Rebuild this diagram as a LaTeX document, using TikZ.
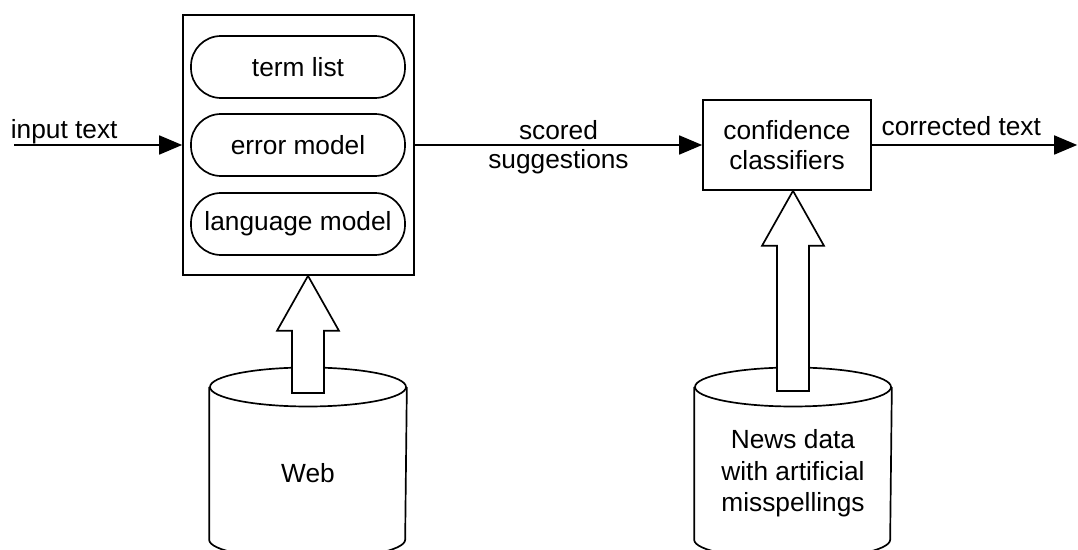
\documentclass[tikz,border=0pt]{standalone}
\usepackage{fontspec}
\setmainfont{Liberation Sans}
\usetikzlibrary{arrows.meta,calc}

\tikzset{
  flow/.style={-{Triangle[length=0.575cm,width=0.475cm]}},
  part/.style={draw,rounded corners=0.75cm,minimum width=5.35cm,minimum height=1.55cm},
  store/.style={minimum width=4.9cm,minimum height=4.275cm,anchor=north,align=center},
  lbl/.style={inner sep=0pt,align=center}
}

% hollow arrow: tip node, tail point
\newcommand{\fatarrow}[2]{%
  \draw[fill=white] let \p1=(#1), \p2=(#2) in
    (\x1,\y1) -- (\x1+0.775cm,\y1-1.375cm) -- (\x1+0.4cm,\y1-1.375cm)
    -- (\x1+0.4cm,\y2) -- (\x1-0.4cm,\y2) -- (\x1-0.4cm,\y1-1.375cm)
    -- (\x1-0.775cm,\y1-1.375cm) -- cycle;}

% drum outline round a store node
\newcommand{\drum}[1]{%
  \draw (#1.north) ellipse [x radius=2.45cm,y radius=0.4875cm];
  \draw (#1.north west) -- ($(#1.south west)+(0,0.5)$)
    arc[start angle=180,end angle=360,x radius=2.45cm,y radius=0.4875cm]
    -- (#1.north east);}

\begin{document}
\begin{tikzpicture}[line width=1.2pt,font=\fontsize{18.7}{21}\selectfont]

\clip (0,0) rectangle (26.95,-13.75);
\useasboundingbox (0,0) rectangle (26.95,-13.75);

%BOXES
\node[draw,minimum width=5.775cm,minimum height=6.5cm] (engine) at (7.4625,-3.625) {};
\node[part] (terms) at (7.45,-1.675) {term list};
\node[part] (errmodel) at (7.45,-3.625) {error model};
\node[part] (langmodel) at (7.45,-5.6) {language model};

\node[draw,minimum width=4.2cm,minimum height=2.25cm,align=center] (conf) at (19.675,-3.625) {confidence\\classifiers};

%DATA
\node[store] (web) at (7.7,-9.675) {Web};
\node[store,font=\fontsize{18.7}{22.5}\selectfont] (news) at (19.825,-9.675) {News data\\with artificial\\misspellings};
\drum{web}
\drum{news}

%ARROWS
\coordinate (in) at (0.35,-3.625);
\coordinate (out) at (26.93,-3.625);

\draw[flow] (in) -- (engine.west)
  node[pos=0,lbl,anchor=south west,xshift=-0.1cm] {input text};
\draw[flow] (engine.east) -- node[lbl,yshift=-0.05cm] {scored\\suggestions} (conf.west);
\draw[flow] (conf.east) -- (out)
  node[pos=0,lbl,anchor=south west,xshift=0.225cm,yshift=0.2cm] {corrected text};

\fatarrow{web |- engine.south}{$(web.north)+(0,-0.15)$}
\fatarrow{news |- conf.south}{$(news.north)+(0,-0.1)$}

\end{tikzpicture}
\end{document}
